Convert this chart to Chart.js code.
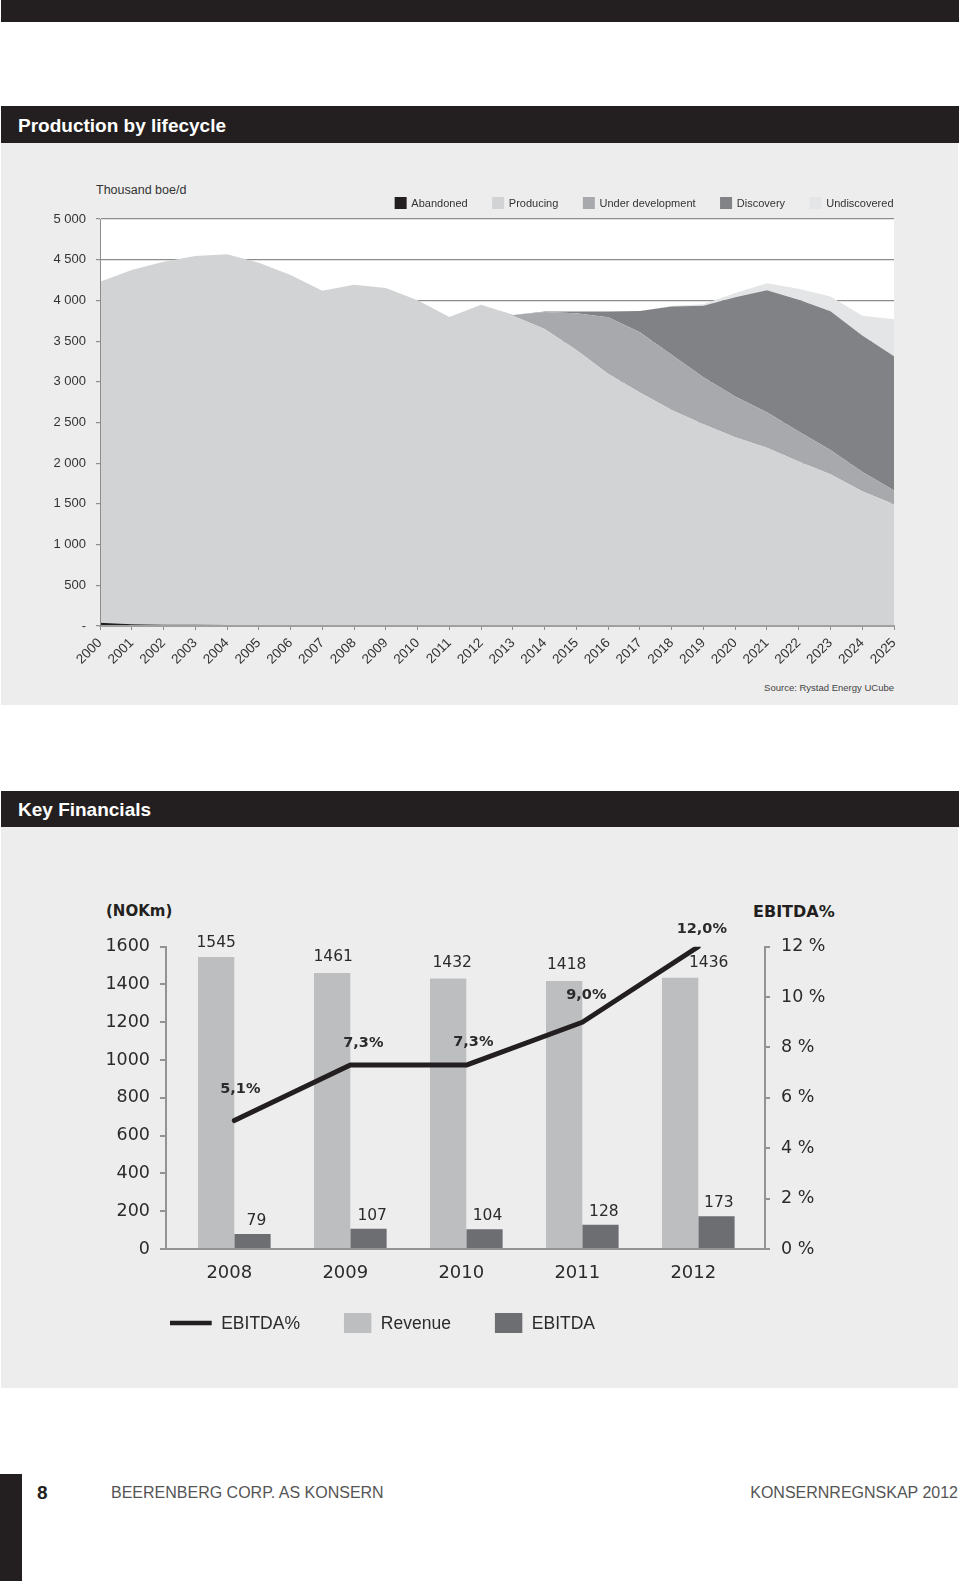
<!DOCTYPE html>
<html><head><meta charset="utf-8">
<script src="https://cdn.jsdelivr.net/npm/chart.js@4/dist/chart.umd.min.js"></script>
<style>
html,body{margin:0;padding:0;background:#fff;}
body{position:relative;width:960px;height:1581px;overflow:hidden;font-family:'Liberation Sans',Arial,sans-serif;color:#231f20;}
.abs{position:absolute;white-space:nowrap;}
.blk{background:#231f20;}
.head{color:#fff;font-weight:bold;font-size:19px;padding-left:17px;box-sizing:border-box;}
.panel{background:#ededed;}
canvas{position:absolute;left:0;top:0;}
</style></head><body>
<div class="abs blk" style="left:1px;top:0;width:958px;height:22px"></div>

<div class="abs blk head" style="left:1px;top:106px;width:958px;height:37px;line-height:39px">Production by lifecycle</div>
<div class="abs panel" style="left:1px;top:143px;width:957px;height:562px"></div>
<div class="abs" style="left:96px;top:182px;font-size:12.5px;line-height:16px;color:#333">Thousand boe/d</div>
<div class="abs" style="right:66px;top:682px;font-size:9.5px;line-height:12px;color:#444">Source: Rystad Energy UCube</div>
<div class="abs" style="left:0;top:143px;width:960px;height:562px"><canvas id="c1" width="960" height="562"></canvas></div>

<div class="abs blk head" style="left:1px;top:791px;width:958px;height:36px;line-height:38px">Key Financials</div>
<div class="abs panel" style="left:1px;top:827px;width:957px;height:561px"></div>
<div class="abs" style="left:106px;top:902px;font-family:'DejaVu Sans';font-weight:bold;font-size:15px;line-height:18px">(NOKm)</div>
<div class="abs" style="left:753px;top:903px;font-family:'DejaVu Sans';font-weight:bold;font-size:16px;line-height:18px">EBITDA%</div>
<div class="abs" style="left:0;top:827px;width:960px;height:561px"><canvas id="c2" width="960" height="561"></canvas></div>

<div class="abs blk" style="left:0;top:1474px;width:22px;height:107px"></div>
<div class="abs" style="left:37px;top:1482px;font-weight:bold;font-size:19px;line-height:22px">8</div>
<div class="abs" style="left:111px;top:1483px;font-size:16px;line-height:20px;color:#555">BEERENBERG CORP. AS KONSERN</div>
<div class="abs" style="right:2px;top:1483px;font-size:16px;line-height:20px;color:#555">KONSERNREGNSKAP 2012</div>

<script>
// ---------- Chart 1 data: Production by lifecycle (thousand boe/d) ----------
const years = ['2000','2001','2002','2003','2004','2005','2006','2007','2008','2009','2010','2011','2012',
  '2013','2014','2015','2016','2017','2018','2019','2020','2021','2022','2023','2024','2025'];
const abandoned        = [40,20,15,15,12,4,3,3,2,2,1,1,1,0,0,0,0,0,0,0,0,0,0,0,0,0];
const producing        = [4190,4355,4460,4530,4555,4460,4310,4115,4190,4150,4000,3795,3945,3810,3650,3390,3100,2870,2655,2480,2320,2190,2020,1865,1655,1495];
const underDevelopment = [0,0,0,0,0,0,0,0,0,0,0,0,0,12,208,453,694,740,676,576,498,435,368,298,241,170];
const discovery        = [0,0,0,0,0,0,0,0,0,0,0,0,0,0,5,20,69,261,594,877,1222,1500,1619,1705,1674,1649];
const undiscovered     = [0,0,0,0,0,0,0,0,0,0,0,0,0,0,0,0,0,0,10,20,50,85,135,180,240,455];
const prodTicks = [0,500,1000,1500,2000,2500,3000,3500,4000,4500,5000];

// ---------- Chart 2 data: Key Financials ----------
const finYears   = ['2008','2009','2010','2011','2012'];
const revenue    = [1545,1461,1432,1418,1436];
const ebitda     = [79,107,104,128,173];
const ebitdaPct  = [5.1,7.3,7.3,9.0,12.0];
const nokTicks   = [0,200,400,600,800,1000,1200,1400,1600];
const pctTicks   = [0,2,4,6,8,10,12];

// ---------- plugins ----------
const plotBg = {
  id:'plotBg',
  beforeDraw(chart, args, o){
    if(!o || !o.color) return;
    const a = chart.chartArea, ctx = chart.ctx;
    ctx.save(); ctx.fillStyle = o.color;
    ctx.fillRect(a.left, a.top, a.right - a.left, a.bottom - a.top);
    ctx.restore();
  }
};

const swatchLegend = {
  id:'swatchLegend',
  afterDraw(chart, args, o){
    if(!o || !o.show) return;
    const ctx = chart.ctx;
    ctx.save();
    ctx.font = o.font; ctx.textBaseline = 'middle'; ctx.textAlign = 'left';
    const items = chart.data.datasets.map(ds => {
      const isLine = (ds.type || chart.config.type) === 'line' && !ds.fill;
      const box = isLine ? o.lineBox : o.box;
      return {text: ds.label, color: isLine ? ds.borderColor : ds.backgroundColor, isLine, box,
              tw: ctx.measureText(ds.label).width};
    });
    let total = 0;
    items.forEach((it, i) => { total += it.box[0] + o.textGap + it.tw + (i ? o.itemGap : 0); });
    let x = o.align === 'right' ? o.x - total : o.x;
    items.forEach(it => {
      ctx.fillStyle = it.color;
      ctx.fillRect(x, o.y - it.box[1]/2, it.box[0], it.box[1]);
      x += it.box[0] + o.textGap;
      ctx.fillStyle = o.color;
      ctx.fillText(it.text, x, o.y + 1);
      x += it.tw + o.itemGap;
    });
    ctx.restore();
  }
};

const valueLabels = {
  id:'valueLabels',
  afterDatasetsDraw(chart, args, o){
    if(!o || !o.show) return;
    const ctx = chart.ctx;
    ctx.save();
    ctx.textAlign = 'center'; ctx.textBaseline = 'middle';
    chart.data.datasets.forEach((ds, di) => {
      const meta = chart.getDatasetMeta(di);
      const isLine = ds.type === 'line';
      const offs = o.offsets[ds.label];
      meta.data.forEach((el, i) => {
        const v = ds.data[i].y;
        const off = offs[i];
        ctx.font = isLine ? o.boldFont : o.font;
        ctx.fillStyle = o.color;
        const txt = isLine ? v.toFixed(1).replace('.', ',') + '%' : String(v);
        ctx.fillText(txt, el.x + off[0], el.y + off[1]);
      });
    });
    ctx.restore();
  }
};

Chart.register(plotBg, swatchLegend, valueLabels);

const gridGray = '#8d8d8d';

// ---------- Chart 1 ----------
const areaSeries = [
  ['Abandoned', abandoned, '#231f20'],
  ['Producing', producing, '#d1d3d4'],
  ['Under development', underDevelopment, '#a7a9ac'],
  ['Discovery', discovery, '#808285'],
  ['Undiscovered', undiscovered, '#e4e5e6']
];
new Chart(document.getElementById('c1'), {
  type:'line',
  data:{
    labels: years,
    datasets: areaSeries.map((s, i) => ({
      label:s[0], data:s[1], backgroundColor:s[2], borderColor:s[2],
      borderWidth:0, pointRadius:0, tension:0, fill: i === 0 ? 'origin' : '-1'
    }))
  },
  options:{
    responsive:false, animation:false,
    layout:{padding:{top:76, right:66, left:0, bottom:0}},
    plugins:{
      legend:{display:false}, tooltip:{enabled:false},
      plotBg:{color:'#ffffff'},
      swatchLegend:{show:true, align:'right', x:893.5, y:60, box:[12,12], lineBox:[12,12],
        textGap:4.7, itemGap:24.5, font:'11px "Liberation Sans"', color:'#333'},
      valueLabels:{show:false}
    },
    scales:{
      x:{
        grid:{display:true, drawOnChartArea:false, drawTicks:true, tickLength:4, color:gridGray},
        border:{display:true, color:'#a0a0a0', width:2, z:1},
        ticks:{autoSkip:false, minRotation:45, maxRotation:45, padding:5,
          font:{family:'"Liberation Sans"', size:13.5}, color:'#333'},
        afterFit(s){ s.height = 79; }
      },
      y:{
        stacked:true, min:0, max:5000,
        afterBuildTicks(s){ s.ticks = prodTicks.map(v => ({value:v})); },
        ticks:{padding:10, font:{family:'"Liberation Sans"', size:13}, color:'#333',
          callback:v => v === 0 ? '-' : String(v).replace(/\B(?=(\d{3})+(?!\d))/g, ' ')},
        grid:{color:gridGray, lineWidth:1.2, tickLength:4},
        border:{display:true, color:gridGray, width:1, z:1},
        afterFit(s){ s.width = 100; }
      }
    }
  }
});

// ---------- Chart 2 ----------
const axisGray = '#939393';
const numFont = '"DejaVu Sans"';
new Chart(document.getElementById('c2'), {
  type:'bar',
  data:{
    datasets:[
      {type:'line', label:'EBITDA%', data: ebitdaPct.map((v,i)=>({x:i, y:v})), yAxisID:'y1',
       borderColor:'#231f20', backgroundColor:'#231f20', borderWidth:5, pointRadius:0, tension:0,
       borderCapStyle:'round', borderJoinStyle:'round', fill:false, order:0},
      {label:'Revenue', data: revenue.map((v,i)=>({x:i, y:v})), backgroundColor:'#bcbec0', yAxisID:'y', order:1},
      {label:'EBITDA', data: ebitda.map((v,i)=>({x:i, y:v})), backgroundColor:'#6d6e71', yAxisID:'y', order:1}
    ]
  },
  options:{
    responsive:false, animation:false,
    layout:{padding:{top:119.7, left:0, right:0, bottom:0}},
    datasets:{bar:{categoryPercentage:0.626, barPercentage:1}},
    plugins:{
      legend:{display:false}, tooltip:{enabled:false},
      swatchLegend:{show:true, align:'left', x:170, y:496, box:[27.4,20], lineBox:[41.7,4.5],
        textGap:9.5, itemGap:44, font:'17.5px "Liberation Sans"', color:'#2b2b2b'},
      valueLabels:{show:true, font:'15.5px ' + numFont, boldFont:'bold 14.5px ' + numFont, color:'#2b2b2b',
        offsets:{
          'EBITDA%':[[6,-31],[13,-22],[7,-23],[4,-27],[3.5,-17]],
          'Revenue':[[0,-14],[1,-15.5],[4,-15.5],[2.5,-16.5],[28.5,-14.5]],
          'EBITDA':[[4,-13],[3.7,-13],[3,-13],[3.4,-13],[2.4,-13]]
        }}
    },
    scales:{
      x:{
        type:'linear', offset:false, min:-0.589, max:4.575,
        afterBuildTicks(s){ s.ticks = finYears.map((_, i) => ({value:i})); },
        ticks:{callback:v => finYears[v] !== undefined ? finYears[v] : '', padding:14, labelOffset:-5,
          font:{family:numFont, size:18}, color:'#2b2b2b'},
        grid:{display:false, drawTicks:false, offset:false},
        border:{display:true, color:axisGray, width:2, z:1},
        afterFit(s){ s.height = 139; }
      },
      y:{
        position:'left', min:0, max:1600,
        afterBuildTicks(s){ s.ticks = nokTicks.map(v => ({value:v})); },
        ticks:{padding:10, font:{family:numFont, size:17.5}, color:'#2b2b2b', callback:v => String(v)},
        grid:{drawOnChartArea:false, tickLength:6, color:axisGray, lineWidth:2},
        border:{display:true, color:axisGray, width:2},
        afterFit(s){ s.width = 166; }
      },
      y1:{
        position:'right', min:0, max:12,
        afterBuildTicks(s){ s.ticks = pctTicks.map(v => ({value:v})); },
        ticks:{padding:11, font:{family:numFont, size:17.5}, color:'#2b2b2b', callback:v => v + ' %'},
        grid:{drawOnChartArea:false, tickLength:5, color:axisGray, lineWidth:2},
        border:{display:true, color:axisGray, width:2},
        afterFit(s){ s.width = 195; }
      }
    }
  }
});
</script>
</body></html>
